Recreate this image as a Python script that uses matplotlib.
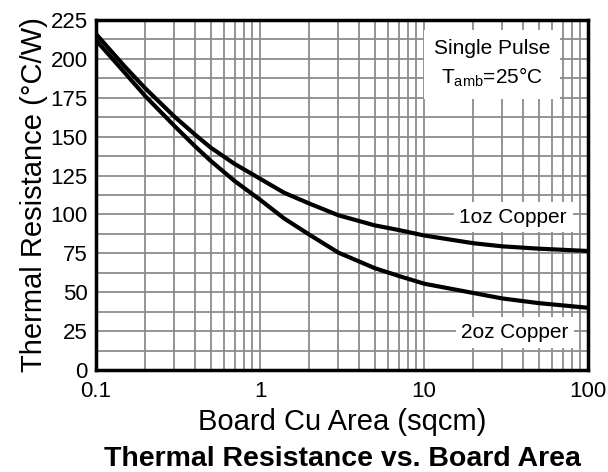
import numpy as np
import matplotlib
matplotlib.use('Agg')
import matplotlib.pyplot as plt
from matplotlib.ticker import FixedLocator, NullFormatter

plt.rcParams['font.family'] = ['Liberation Sans', 'DejaVu Sans']
plt.rcParams['mathtext.fontset'] = 'custom'
plt.rcParams['mathtext.rm'] = 'Liberation Sans'

# Board copper area (sqcm) and thermal resistance (C/W)
area = [0.1, 0.15, 0.2, 0.3, 0.4, 0.5, 0.7, 1, 1.4, 2, 3, 5, 7, 10, 20, 30, 50, 100]
r_1oz = [216, 195, 181, 163, 151.5, 143, 132.5, 123, 114, 107, 99.5, 93, 90, 86.5, 81.5, 79.5, 78, 76.5]
r_2oz = [212, 191, 176, 157, 144, 134.5, 121.5, 109.5, 97.5, 87, 75.5, 65.5, 60.5, 55.5, 49.5, 46, 43, 40]

y_ticks = [0, 25, 50, 75, 100, 125, 150, 175, 200, 225]
x_ticks = [0.1, 1, 10, 100]
x_labels = ['0.1', '1', '10', '100']

fig = plt.figure(figsize=(6.08, 4.72), dpi=100)
ax = fig.add_axes([96 / 608, 1 - 370 / 472, 492 / 608, 350 / 472])

ax.plot(area, r_1oz, color='black', lw=3, solid_joinstyle='round', zorder=5)
ax.plot(area, r_2oz, color='black', lw=3, solid_joinstyle='round', zorder=5)

ax.set_xscale('log')
ax.set_xlim(0.1, 100)
ax.set_ylim(0, 225)

ax.set_xticks(x_ticks)
ax.set_xticklabels(x_labels)
ax.xaxis.set_minor_locator(FixedLocator(
    [m * d for d in (0.1, 1, 10) for m in range(2, 10)]))
ax.xaxis.set_minor_formatter(NullFormatter())
ax.set_yticks(y_ticks)
ax.yaxis.set_minor_locator(FixedLocator(np.arange(12.5, 225, 25)))

ax.grid(True, which='both', color='#8c8c8c', lw=1.3)
ax.set_axisbelow(True)
ax.tick_params(which='both', length=0, labelsize=16)
ax.tick_params(axis='x', pad=8)
ax.tick_params(axis='y', pad=6)
for s in ax.spines.values():
    s.set_linewidth(2.5)
    s.set_zorder(6)

ax.set_ylabel('Thermal Resistance (°C/W)', fontsize=21, labelpad=2)
ax.set_xlabel('Board Cu Area (sqcm)', fontsize=21, labelpad=4)
fig.text(0.5 * (96 + 588) / 608, 1 - 459 / 472, 'Thermal Resistance vs. Board Area',
         fontsize=20.5, fontweight='bold', ha='center', va='center')

box = dict(facecolor='white', edgecolor='none', pad=4)
ax.text(0.805, 0.875, 'Single Pulse\n$\\mathregular{T_{amb}}$=25°C', transform=ax.transAxes,
        fontsize=15, ha='center', va='center', linespacing=1.45,
        bbox=dict(facecolor='white', edgecolor='none', pad=7), zorder=4)
ax.text(0.848, 0.437, '1oz Copper', transform=ax.transAxes, fontsize=15,
        ha='center', va='center', bbox=box, zorder=4)
ax.text(0.852, 0.107, '2oz Copper', transform=ax.transAxes, fontsize=15,
        ha='center', va='center', bbox=box, zorder=4)

fig.savefig('out.png', dpi=100)
